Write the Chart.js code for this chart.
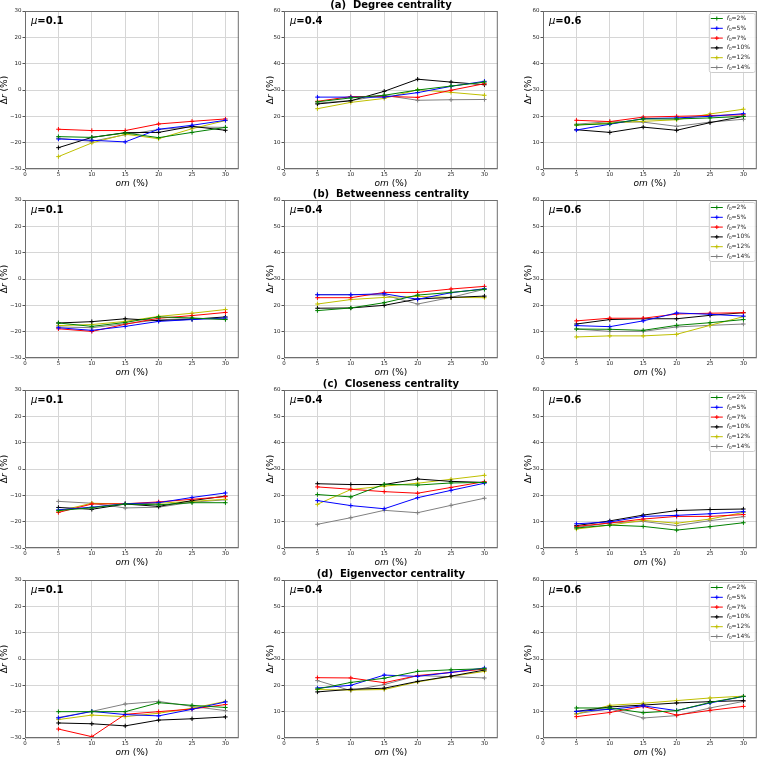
<!DOCTYPE html>
<html><head><meta charset="utf-8">
<script src="https://cdn.jsdelivr.net/npm/chart.js@4.4.1/dist/chart.umd.min.js"></script>
<style>
html,body{margin:0;padding:0;background:#fff;overflow:hidden;width:760px;height:757px;}
#wrap{position:relative;width:760px;height:757px;overflow:hidden;}
canvas{position:absolute;}
</style></head><body><div id="wrap"></div>
<script>
// ---------- data ----------
const omValues = [5, 10, 15, 20, 25, 30];
const f0Labels = ['2%', '5%', '7%', '10%', '12%', '14%'];
const seriesColors = ['#008000', '#0000ff', '#ff0000', '#000000', '#bfbf00', '#808080'];
const muLabels = ['0.1', '0.4', '0.6'];
const panelTitles = ['(a)  Degree centrality', '(b)  Betweenness centrality', '(c)  Closeness centrality', '(d)  Eigenvector centrality'];
const yRangeMu01 = [-30, 30];
const yRangeOther = [0, 60];

// each array: rows in f0 order 2%,5%,7%,10%,12%,14%; columns om = 5..30
const degree_mu01 = [
  [-17.7, -18.0, -16.3, -18.1, -16.1, -14.2],
  [-18.6, -19.1, -19.7, -14.9, -13.4, -11.5],
  [-14.9, -15.4, -15.4, -12.9, -11.9, -11.0],
  [-21.9, -18.0, -16.2, -16.1, -13.8, -15.3],
  [-25.3, -20.1, -16.8, -18.5, -14.7, -11.6],
  [-18.3, -19.5, -17.0, -15.0, -14.0, -14.2]
];
const degree_mu04 = [
  [25.5, 27.0, 28.0, 30.0, 31.5, 33.0],
  [27.3, 27.3, 27.3, 29.0, 31.4, 33.3],
  [25.7, 27.5, 27.6, 27.2, 29.9, 32.4],
  [24.7, 25.9, 29.5, 34.1, 33.0, 32.0],
  [22.9, 25.3, 26.8, 30.1, 29.1, 28.0],
  [25.0, 26.0, 28.0, 26.1, 26.3, 26.4]
];
const degree_mu06 = [
  [16.7, 17.2, 19.0, 19.0, 19.4, 20.0],
  [14.8, 17.0, 19.1, 19.4, 20.0, 21.0],
  [18.5, 18.0, 19.7, 20.0, 20.3, 20.6],
  [14.9, 13.9, 15.9, 14.7, 17.6, 20.0],
  [16.7, 17.5, 18.1, 18.7, 20.9, 22.7],
  [17.0, 18.0, 17.8, 16.2, 17.8, 18.9]
];
const betweenness_mu01 = [
  [-16.7, -18.0, -16.5, -14.4, -14.8, -15.4],
  [-18.5, -19.5, -18.0, -16.1, -15.4, -14.8],
  [-18.9, -19.9, -17.2, -14.9, -13.9, -12.7],
  [-16.7, -16.2, -15.1, -15.8, -15.3, -14.4],
  [-17.7, -17.3, -16.1, -14.2, -13.0, -11.6],
  [-18.2, -18.5, -17.0, -15.5, -15.0, -15.2]
];
const betweenness_mu04 = [
  [18.0, 19.0, 21.0, 23.9, 24.9, 26.1],
  [24.0, 24.0, 24.4, 22.3, 24.8, 26.3],
  [22.9, 22.9, 24.9, 24.9, 26.2, 27.2],
  [18.9, 19.0, 20.0, 22.4, 23.0, 23.5],
  [20.5, 22.2, 23.0, 23.4, 23.0, 22.9],
  [24.1, 24.1, 23.9, 20.5, 23.0, 26.1]
];
const betweenness_mu06 = [
  [11.0, 10.9, 10.5, 12.4, 13.4, 14.6],
  [12.3, 11.9, 14.1, 17.1, 16.6, 15.9],
  [14.1, 15.1, 15.1, 16.7, 17.0, 17.2],
  [12.9, 14.6, 14.9, 14.9, 16.2, 17.2],
  [8.0, 8.4, 8.4, 9.0, 12.4, 15.7],
  [11.0, 10.1, 10.1, 11.8, 12.4, 12.9]
];
const closeness_mu01 = [
  [-15.8, -14.7, -13.3, -13.6, -12.8, -12.8],
  [-15.5, -14.5, -13.2, -12.8, -10.8, -9.1],
  [-16.5, -13.3, -13.2, -12.5, -11.5, -10.5],
  [-14.6, -15.3, -13.3, -14.2, -12.0, -10.3],
  [-16.0, -13.0, -13.3, -13.0, -12.3, -11.5],
  [-12.3, -13.0, -14.8, -14.5, -12.6, -11.7]
];
const closeness_mu04 = [
  [20.3, 19.4, 24.2, 23.9, 24.7, 24.9],
  [18.0, 16.1, 14.9, 19.1, 21.9, 24.6],
  [23.2, 22.3, 21.4, 20.8, 23.0, 25.2],
  [24.4, 24.1, 24.1, 26.2, 25.3, 24.9],
  [16.6, 22.2, 23.5, 24.6, 26.1, 27.6],
  [9.0, 11.5, 14.3, 13.4, 16.2, 18.9]
];
const closeness_mu06 = [
  [7.6, 8.7, 8.2, 6.8, 8.1, 9.6],
  [9.2, 9.9, 12.0, 12.4, 13.0, 13.8],
  [8.2, 9.5, 11.0, 12.0, 12.0, 12.7],
  [8.5, 10.3, 12.5, 14.2, 14.6, 14.8],
  [7.2, 8.7, 10.5, 9.4, 11.0, 13.5],
  [7.8, 9.5, 10.1, 8.5, 10.4, 11.9]
];
const eigenvector_mu01 = [
  [-20.0, -20.0, -20.0, -16.6, -17.6, -18.4],
  [-22.4, -19.9, -21.1, -21.6, -19.1, -16.3],
  [-26.6, -29.5, -21.0, -20.0, -19.0, -17.3],
  [-24.3, -24.6, -25.4, -23.2, -22.7, -22.0],
  [-23.0, -21.3, -21.9, -20.6, -18.7, -16.1],
  [-22.2, -19.9, -17.1, -16.1, -18.0, -19.6]
];
const eigenvector_mu04 = [
  [18.6, 21.1, 22.7, 25.3, 25.9, 26.3],
  [19.0, 20.0, 23.9, 23.4, 24.9, 26.6],
  [22.9, 22.8, 21.0, 23.7, 24.9, 26.2],
  [17.5, 18.5, 18.9, 21.5, 23.5, 25.8],
  [18.4, 18.2, 18.4, 21.3, 23.4, 25.3],
  [21.8, 18.0, 20.3, 23.7, 23.3, 22.8]
];
const eigenvector_mu06 = [
  [11.4, 11.4, 9.6, 10.4, 13.5, 15.8],
  [10.1, 10.9, 12.2, 10.4, 13.3, 15.8],
  [8.1, 9.7, 12.0, 8.7, 10.5, 12.0],
  [10.1, 11.8, 12.5, 13.3, 13.8, 14.2],
  [9.1, 12.4, 13.2, 14.2, 15.2, 15.9],
  [9.2, 11.1, 7.6, 8.5, 11.4, 13.9]
];
const panelData = [
  [degree_mu01, degree_mu04, degree_mu06],
  [betweenness_mu01, betweenness_mu04, betweenness_mu06],
  [closeness_mu01, closeness_mu04, closeness_mu06],
  [eigenvector_mu01, eigenvector_mu04, eigenvector_mu06]
];

// ---------- layout ----------
const plotLefts = [25, 284, 543];
const plotTops = [11, 200, 390, 580];
const PW = 216, PH = 158, PADL = 25, PADT = 11, CW = 242, CH = 190;
const ylabelX = [5, 11.5, 11];
const FONT = "'DejaVu Sans', sans-serif";

function drawRich(ctx, parts, x, y, align) {
  let total = 0;
  parts.forEach(p => { ctx.font = p.f; p.w = ctx.measureText(p.t).width; total += p.w; });
  let cx = align === 'center' ? x - total / 2 : x;
  parts.forEach(p => { ctx.font = p.f; ctx.fillText(p.t, cx, y + (p.dy || 0)); cx += p.w; });
}

const decor = {
  id: 'decor',
  afterDraw(chart, args, o) {
    const ctx = chart.ctx, a = chart.chartArea;
    ctx.save();
    // spines
    ctx.strokeStyle = '#6e6e6e'; ctx.lineWidth = 1;
    ctx.strokeRect(a.left + 0.5, a.top + 0.5, a.right - a.left - 1, a.bottom - a.top - 1);
    ctx.fillStyle = '#000'; ctx.textBaseline = 'alphabetic';
    // mu label
    drawRich(ctx, [
      {t: 'μ', f: `italic 10px ${FONT}`},
      {t: '=' + o.mu, f: `bold 10px ${FONT}`}
    ], a.left + 6, a.top + 13, 'left');
    // x label
    drawRich(ctx, [
      {t: 'om', f: `italic 9px ${FONT}`},
      {t: ' (%)', f: `9px ${FONT}`}
    ], (a.left + a.right) / 2, a.bottom + 16.5, 'center');
    // y label
    ctx.save();
    ctx.translate(o.ylx, (a.top + a.bottom) / 2);
    ctx.rotate(-Math.PI / 2);
    ctx.textBaseline = 'middle';
    drawRich(ctx, [
      {t: 'Δ', f: `9px ${FONT}`},
      {t: 'r', f: `italic 9px ${FONT}`},
      {t: ' (%)', f: `9px ${FONT}`}
    ], 0, 0, 'center');
    ctx.restore();
    // title
    if (o.title) {
      ctx.font = `bold 10px ${FONT}`;
      ctx.textAlign = 'center';
      ctx.fillText(o.title, (a.left + a.right) / 2, a.top - 3);
      ctx.textAlign = 'left';
    }
    // legend
    if (o.legend) {
      const bw = 46, bh = 59;
      const bx = a.right - 2 - bw, by = a.top + 2;
      ctx.fillStyle = 'rgba(255,255,255,0.85)';
      ctx.strokeStyle = '#cccccc';
      ctx.lineWidth = 1;
      ctx.beginPath();
      ctx.roundRect(bx + 0.5, by + 0.5, bw, bh, 2);
      ctx.fill(); ctx.stroke();
      chart.data.datasets.forEach((ds, i) => {
        const yy = by + 5.5 + i * 9.8;
        ctx.strokeStyle = ds.borderColor; ctx.lineWidth = 1;
        ctx.beginPath(); ctx.moveTo(bx + 2, yy); ctx.lineTo(bx + 14, yy); ctx.stroke();
        ctx.beginPath(); ctx.moveTo(bx + 6, yy); ctx.lineTo(bx + 10, yy);
        ctx.moveTo(bx + 8, yy - 2); ctx.lineTo(bx + 8, yy + 2); ctx.stroke();
        ctx.fillStyle = '#222';
        ctx.textBaseline = 'middle';
        drawRich(ctx, [
          {t: 'f', f: `italic 6px ${FONT}`},
          {t: '0', f: `4.2px ${FONT}`, dy: 1.5},
          {t: '=' + f0Labels[i], f: `6px ${FONT}`}
        ], bx + 18, yy, 'left');
      });
    }
    ctx.restore();
  }
};

const wrap = document.getElementById('wrap');
for (let r = 0; r < 4; r++) {
  for (let c = 0; c < 3; c++) {
    const cv = document.createElement('canvas');
    cv.width = CW; cv.height = CH;
    cv.style.left = (plotLefts[c] - PADL) + 'px';
    cv.style.top = (plotTops[r] - PADT) + 'px';
    cv.style.width = CW + 'px'; cv.style.height = CH + 'px';
    wrap.appendChild(cv);
    const rows = panelData[r][c];
    const yr = c === 0 ? yRangeMu01 : yRangeOther;
    const datasets = rows.map((vals, i) => ({
      label: 'f0=' + f0Labels[i],
      data: omValues.map((x, k) => ({x: x, y: vals[k]})),
      borderColor: seriesColors[i],
      backgroundColor: seriesColors[i],
      borderWidth: 1,
      pointStyle: 'cross',
      pointRadius: 2.2,
      pointBorderWidth: 1,
      pointHoverRadius: 2.2,
      tension: 0,
      fill: false
    }));
    new Chart(cv, {
      type: 'line',
      data: {datasets},
      options: {
        responsive: false,
        animation: false,
        devicePixelRatio: 1,
        layout: {padding: {top: PADT, right: CW - PADL - PW, left: 0, bottom: 0}},
        plugins: {
          legend: {display: false},
          tooltip: {enabled: false},
          decor: {mu: muLabels[c], title: c === 1 ? panelTitles[r] : null, legend: c === 2, ylx: ylabelX[c]}
        },
        scales: {
          x: {
            type: 'linear', min: 0, max: 32,
            afterFit: s => { s.height = CH - PADT - PH; },
            ticks: {stepSize: 5, includeBounds: false, autoSkip: false, maxRotation: 0, padding: 0,
                    font: {family: FONT, size: 5.5}, color: '#222'},
            grid: {color: '#d6d6d6', lineWidth: 1, tickLength: 2.5, tickColor: '#555'},
            border: {display: false}
          },
          y: {
            min: yr[0], max: yr[1],
            afterFit: s => { s.width = PADL; },
            ticks: {stepSize: 10, padding: 1, font: {family: FONT, size: 5.5}, color: '#222',
                    callback: v => String(v).replace('-', '\u2212')},
            grid: {color: '#d6d6d6', lineWidth: 1, tickLength: 2.5, tickColor: '#555'},
            border: {display: false}
          }
        }
      },
      plugins: [decor]
    });
  }
}
</script></body></html>
